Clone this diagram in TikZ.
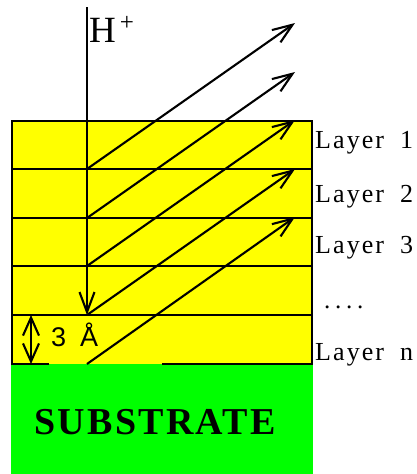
\documentclass[tikz,border=0pt]{standalone}
\usepackage{fontspec}
\setmainfont{Liberation Serif}
\newfontfamily\sansf{Liberation Sans}
\usetikzlibrary{arrows.meta}
\definecolor{layeryellow}{RGB}{255,255,0}
\definecolor{subgreen}{RGB}{0,255,0}
\tikzset{
  ray/.style={line width=2.1pt, -{Straight Barb[length=20pt,width=15pt,line width=2.1pt]}},
  border/.style={line width=1.5pt},
  layerlabel/.style={anchor=base west, inner sep=0pt, font=\fontsize{26}{26}\selectfont\addfontfeatures{LetterSpace=8}},
}
\begin{document}
\begin{tikzpicture}[x=1pt,y=-1pt]
\useasboundingbox (0,0) rectangle (416,474);
% substrate and layers
\fill[subgreen] (11,364) rectangle (313,474);
\fill[layeryellow] (12,121) rectangle (312,364);
\foreach \yy in {169,218,266,315} \draw[border] (12,\yy) -- (312,\yy);
\draw[border] (49,364) -- (12,364) -- (12,121) -- (312,121) -- (312,364) -- (162,364);
% coordinates
\coordinate (top) at (87,7);
\coordinate (mid) at (87,57);
\coordinate (s1) at (87,169);
\coordinate (s2) at (87,218);
\coordinate (s3) at (87,266);
\coordinate (s4) at (87,315);
\coordinate (s5) at (87,364);
\coordinate (t1) at (295,23);
\coordinate (t2) at (295,72);
\coordinate (t3) at (295,120);
\coordinate (t4) at (295,169);
\coordinate (t5) at (295,217);
% incident beam
\draw[line width=1.1pt] (top) -- (mid);
\draw[ray] (mid) -- (s4);
% emitted rays
\draw[ray] (s1) -- (t1);
\draw[ray] (s2) -- (t2);
\draw[ray] (s3) -- (t3);
\draw[ray] (s4) -- (t4);
\draw[ray] (s5) -- (t5);
% thickness arrow
\coordinate (d1) at (31,315);
\coordinate (d2) at (31,364);
\draw[line width=2.1pt, {Straight Barb[length=18pt,width=16pt,line width=2.1pt]}-{Straight Barb[length=18pt,width=16pt,line width=2.1pt]}] (d1) -- (d2);
\node[anchor=base west, inner sep=0pt, font=\sansf\fontsize{27}{27}\selectfont] (ang) at (51,346) {3\hspace{14pt}Å};
% labels
\node[anchor=base west, inner sep=0pt, font=\fontsize{37}{37}\selectfont] (H) at (89,42) {H};
\node[inner sep=0pt, font=\fontsize{25}{25}\selectfont] (plus) at (127,23) {+};
\node[layerlabel] (L1) at (315,148) {Layer\hspace{16pt}1};
\node[layerlabel] (L2) at (315,202) {Layer\hspace{16pt}2};
\node[layerlabel] (L3) at (315,253) {Layer\hspace{16pt}3};
\node[anchor=base west, inner sep=0pt, font=\fontsize{25}{25}\selectfont] (dots) at (324,308) {.\hspace{4.75pt}.\hspace{4.75pt}.\hspace{4.75pt}.};
\node[layerlabel] (Ln) at (315,360) {Layer\hspace{16pt}n};
\node[anchor=base, inner sep=0pt, font=\bfseries\fontsize{38}{38}\selectfont\addfontfeatures{LetterSpace=6}] (sub) at (155,434) {SUBSTRATE};
\end{tikzpicture}
\end{document}
